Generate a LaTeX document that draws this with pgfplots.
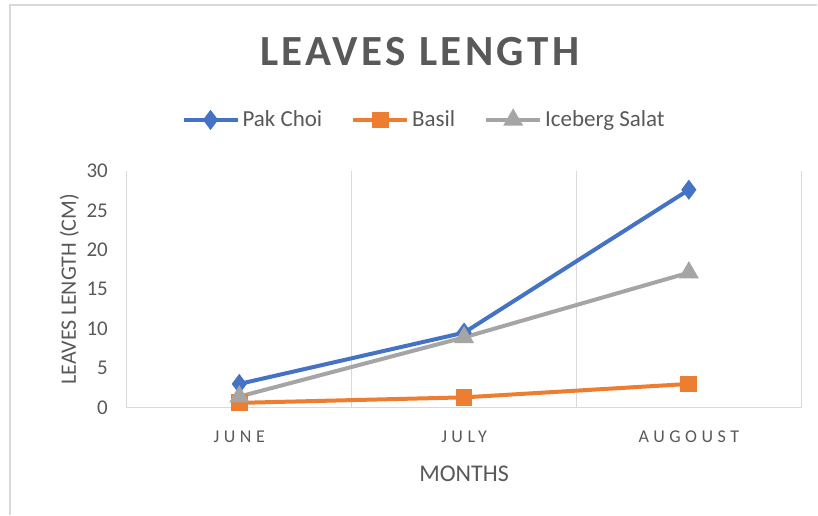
\documentclass[border=0pt]{standalone}
\usepackage{pgfplots}
\pgfplotsset{compat=1.18}
\usepackage{fontspec}
\setmainfont{Carlito}
\definecolor{cblue}{HTML}{4472C4}
\definecolor{corange}{HTML}{ED7D31}
\definecolor{cgray}{HTML}{A5A5A5}
\definecolor{ctext}{HTML}{595959}
\definecolor{cgrid}{HTML}{D9D9D9}
\begin{document}
\begin{tikzpicture}
\fill[white] (0,0) rectangle (409pt,257.5pt);
\draw[cgrid,line width=0.75pt] (5pt,0) -- (5pt,255pt) -- (409pt,255pt);
\node[text=ctext,font=\fontsize{21.5}{25}\selectfont\bfseries\addfontfeature{LetterSpace=8}] at (210pt,231.5pt) {LEAVES LENGTH};
\begin{axis}[
  at={(63.5pt,53.5pt)}, anchor=south west,
  scale only axis, width=337.5pt, height=118.5pt,
  xmin=-0.5, xmax=2.5, ymin=0, ymax=30,
  xtick={-0.5,0.5,1.5,2.5}, xticklabels={},
  extra x ticks={0,1,2},
  extra x tick labels={JUNE,JULY,AUGOUST},
  extra x tick style={grid=none, major tick length=0pt},
  xticklabel style={text=ctext,font=\fontsize{9}{11}\selectfont\addfontfeature{LetterSpace=25}, yshift=-8pt},
  xmajorgrids, major grid style={cgrid,line width=0.6pt},
  major tick length=0pt,
  ytick={0,5,...,30},
  yticklabel style={text=ctext,font=\fontsize{10.5}{12}\selectfont, xshift=-6pt},
  /pgf/number format/assume math mode=true,
  axis x line*=bottom, axis y line*=left,
  x axis line style={cgrid,line width=0.6pt,-},
  y axis line style={draw=none},
  xlabel={MONTHS}, xlabel style={text=ctext,font=\fontsize{12}{14}\selectfont, yshift=-5pt},
  ylabel={LEAVES LENGTH (CM)}, ylabel style={text=ctext,font=\fontsize{11}{13}\selectfont, yshift=-3pt},
  legend columns=3,
  legend image code/.code={\draw[mark repeat=2,mark phase=2,#1] plot coordinates {(0pt,0pt) (13.5pt,0pt) (27pt,0pt)};},
  legend style={at={(0.4415,1.215)}, anchor=center, draw=none, fill=none,
    font=\fontsize{11.5}{13}\selectfont, text=ctext,
    nodes={inner xsep=1.5pt},
    /tikz/every even column/.append style={column sep=13pt}},
  legend cell align=left,
  clip=false,
]
\addplot[cblue, line width=2pt, mark=diamond*, mark size=3.4pt, mark options={solid}] coordinates {(0,3.0) (1,9.5) (2,27.6)};
\addlegendentry{Pak Choi}
\addplot[corange, line width=2pt, mark=square*, mark size=3.2pt] coordinates {(0,0.6) (1,1.3) (2,3.0)};
\addlegendentry{Basil}
\addplot[cgray, line width=2pt, mark=triangle*, mark size=3.8pt] coordinates {(0,1.4) (1,8.9) (2,17.1)};
\addlegendentry{Iceberg Salat}
\end{axis}
\end{tikzpicture}
\end{document}
